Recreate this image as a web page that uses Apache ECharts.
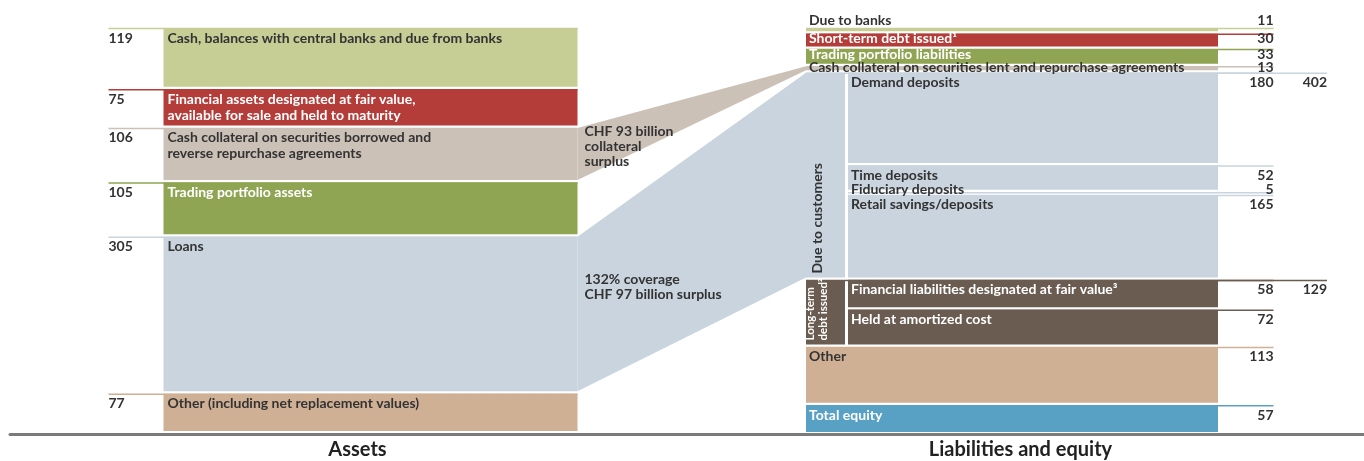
<!DOCTYPE html>
<html>
<head>
<meta charset="utf-8">
<script src="https://cdn.jsdelivr.net/npm/echarts@6/dist/echarts.min.js"></script>
<style>
  html, body { margin: 0; padding: 0; background: #fff; }
  #chart { width: 1364px; height: 461px; }
</style>
</head>
<body>
<div id="chart"></div>
<script>
// --- data (CHF billion) ---
const sides = ['Assets', 'Liabilities and equity'];

const assetNames = [
  'Cash, balances with central banks and due from banks',
  'Financial assets designated at fair value,\navailable for sale and held to maturity',
  'Cash collateral on securities borrowed and\nreverse repurchase agreements',
  'Trading portfolio assets',
  'Loans',
  'Other (including net replacement values)'
];
const assetValues = [119, 75, 106, 105, 305, 77];

const liabNames = [
  'Due to banks',
  'Short-term debt issued¹',
  'Trading portfolio liabilities',
  'Cash collateral on securities lent and repurchase agreements',
  'Demand deposits',
  'Time deposits',
  'Fiduciary deposits',
  'Retail savings/deposits',
  'Financial liabilities designated at fair value³',
  'Held at amortized cost',
  'Other',
  'Total equity'
];
const liabValues = [11, 30, 33, 13, 180, 52, 5, 165, 58, 72, 113, 57];
// which group each liability belongs to (-1 = none)
const liabGroup = [-1, -1, -1, -1, 0, 0, 0, 0, 1, 1, -1, -1];
const groupNames = ['Due to customers', 'Long-term\ndebt issued²'];
const groupTotals = [402, 129];

// funding links: asset index -> range of liability indices
const connFrom = [2, 4];
const connTo = [[3, 3], [4, 7]];
const connLabels = ['CHF 93 billion\ncollateral\nsurplus', '132% coverage\nCHF 97 billion surplus'];

// --- styles ---
const assetColors = ['#c6cd95', '#b43d39', '#cbc1b7', '#8fa553', '#c9d4de', '#cfb095'];
const assetText = ['#333', '#fff', '#333', '#fff', '#333', '#333'];
const liabColors = ['#c6cd95', '#b43d39', '#8fa553', '#cbc1b7', '#c9d4de', '#c9d4de', '#c9d4de', '#c9d4de',
  '#6b5c52', '#6b5c52', '#cfb095', '#58a1c5'];
const liabText = ['#333', '#fff', '#fff', '#333', '#333', '#333', '#333', '#333', '#fff', '#fff', '#333', '#fff'];
const groupColors = ['#c9d4de', '#6b5c52'];
const groupText = ['#333', '#fff'];

const FONT = 'Lato';
const FS = 14;
const GAP = 2.5;
// horizontal offsets from each column's band centre (px)
const L = {
  aNum: -240, aRect0: -185, aRect1: 229,
  lRect0: -219.5, lGroupR: -180.5, lSub0: -177.5, lRect1: 192.5, lNum: 248, lTotal: 301.5,
  connTextDy: [-4, 35]
};

function stack(values) {
  let acc = 0;
  return values.map(v => { const s = acc; acc += v; return [s, acc]; });
}
const assetStack = stack(assetValues);
const liabStack = stack(liabValues);

const blockData = assetValues.map((v, i) => [0, assetStack[i][0], assetStack[i][1], i])
  .concat(liabValues.map((v, i) => [1, liabStack[i][0], liabStack[i][1], i]));

const groupData = groupNames.map((n, g) => {
  const idx = liabGroup.map((x, i) => (x === g ? i : -1)).filter(i => i >= 0);
  return [1, liabStack[idx[0]][0], liabStack[idx[idx.length - 1]][1], g];
});

const connData = connFrom.map((a, k) => [0, assetStack[a][0], assetStack[a][1],
  liabStack[connTo[k][0]][0], liabStack[connTo[k][1]][1], k]);

function txt(x, y, text, o) {
  return {
    type: 'text', x: x, y: y, z2: 10,
    style: Object.assign({
      text: text, fill: '#333', fontFamily: FONT, fontWeight: 'bold', fontSize: FS,
      align: 'left', verticalAlign: 'middle'
    }, o || {})
  };
}
function hline(x1, x2, y, color) {
  return { type: 'line', z2: 5, shape: { x1: x1, y1: y, x2: x2, y2: y }, style: { stroke: color, lineWidth: 1.5 } };
}

function renderConnector(params, api) {
  const k = api.value(5);
  const l0 = api.coord([0, api.value(1)]);
  const l1 = api.coord([0, api.value(2)]);
  const r0 = api.coord([1, api.value(3)]);
  const r1 = api.coord([1, api.value(4)]);
  const xL = l0[0] + L.aRect1;
  const xR = r0[0] + L.lRect0;
  const color = assetColors[connFrom[k]];
  return {
    type: 'group',
    children: [
      {
        type: 'polygon',
        shape: { points: [[xL, l0[1]], [xR, r0[1]], [xR, r1[1] - GAP], [xL, l1[1] - GAP]] },
        style: { fill: color }
      },
      txt(xL + 7, l0[1] + L.connTextDy[k], connLabels[k], { verticalAlign: 'top', lineHeight: 15 })
    ]
  };
}

// vertical position of a liability's label, depending on how thin its block is
function liabLabelY(i, top, bottom) {
  const v = liabValues[i];
  if (v >= 40) return top + 10;
  if (v >= 15) return (top + bottom) / 2 - 1.5;
  if (i === 0) return top - 8;
  return v < 10 ? top - 3 : top + 1;
}

function renderBlock(params, api) {
  const side = api.value(0);
  const i = api.value(3);
  const p0 = api.coord([side, api.value(1)]);
  const p1 = api.coord([side, api.value(2)]);
  const cx = p0[0];
  const top = p0[1];
  const h = Math.max(p1[1] - GAP - top, 0.5);
  const children = [];
  if (side === 0) {
    const color = assetColors[i];
    children.push({ type: 'rect', shape: { x: cx + L.aRect0, y: top, width: L.aRect1 - L.aRect0, height: h }, style: { fill: color } });
    children.push(hline(cx + L.aNum, cx + L.aRect1, top + 0.5, color));
    children.push(txt(cx + L.aNum, top + 10, String(assetValues[i])));
    children.push(txt(cx + L.aRect0 + 4, top + 2, assetNames[i], { fill: assetText[i], verticalAlign: 'top', lineHeight: 16 }));
  } else {
    const color = liabColors[i];
    const x0 = cx + (liabGroup[i] >= 0 ? L.lSub0 : L.lRect0);
    const ly = liabLabelY(i, top, top + h);
    children.push({ type: 'rect', shape: { x: x0, y: top, width: cx + L.lRect1 - x0, height: h }, style: { fill: color } });
    children.push(hline(x0, cx + L.lNum, top + 0.5, color));
    children.push(txt(x0 + 3, ly, liabNames[i], { fill: liabText[i] }));
    children.push(txt(cx + L.lNum, ly, String(liabValues[i]), { align: 'right' }));
  }
  return { type: 'group', children: children };
}

function renderGroup(params, api) {
  const g = api.value(3);
  const p0 = api.coord([1, api.value(1)]);
  const p1 = api.coord([1, api.value(2)]);
  const cx = p0[0];
  const top = p0[1];
  const bottom = p1[1] - GAP;
  const color = groupColors[g];
  return {
    type: 'group',
    children: [
      { type: 'rect', shape: { x: cx + L.lRect0, y: top, width: L.lGroupR - L.lRect0, height: bottom - top }, style: { fill: color } },
      hline(cx + L.lRect0, cx + L.lTotal, top + 0.5, color),
      txt(cx + L.lTotal, top + 10, String(groupTotals[g]), { align: 'right' }),
      {
        type: 'text', x: cx + L.lRect0 + 11, y: bottom - 4, rotation: Math.PI / 2, z2: 10,
        style: {
          text: groupNames[g], fill: groupText[g], fontFamily: FONT, fontWeight: 'bold',
          fontSize: g === 0 ? FS : 11.5, lineHeight: 13, align: 'left', verticalAlign: 'middle'
        }
      }
    ]
  };
}

const titleStyle = { fontFamily: FONT, fontWeight: 'bold', fontSize: 20, color: '#222' };

const chart = echarts.init(document.getElementById('chart'));
chart.setOption({
  animation: false,
  grid: { left: 10, right: 0, top: 28, bottom: 27 },
  xAxis: {
    type: 'category',
    data: sides,
    axisLine: { onZero: false, lineStyle: { color: '#7b7b7b', width: 3 } },
    axisTick: { show: false },
    axisLabel: Object.assign({
      margin: 6,
      formatter: v => (v === sides[0] ? '{a|' + v + '}' : '{b|' + v + '}'),
      rich: {
        a: Object.assign({ padding: [0, 0, 0, 18] }, titleStyle),
        b: Object.assign({ padding: [0, 10, 0, 0] }, titleStyle)
      }
    }, titleStyle)
  },
  yAxis: { type: 'value', inverse: true, min: 0, max: 788, show: false },
  series: [
    { type: 'custom', name: 'links', clip: false, data: connData, renderItem: renderConnector, encode: { x: 0, y: [1, 2] } },
    { type: 'custom', name: 'blocks', clip: false, data: blockData, renderItem: renderBlock, encode: { x: 0, y: [1, 2] } },
    { type: 'custom', name: 'groups', clip: false, data: groupData, renderItem: renderGroup, encode: { x: 0, y: [1, 2] } }
  ]
});
</script>
</body>
</html>
